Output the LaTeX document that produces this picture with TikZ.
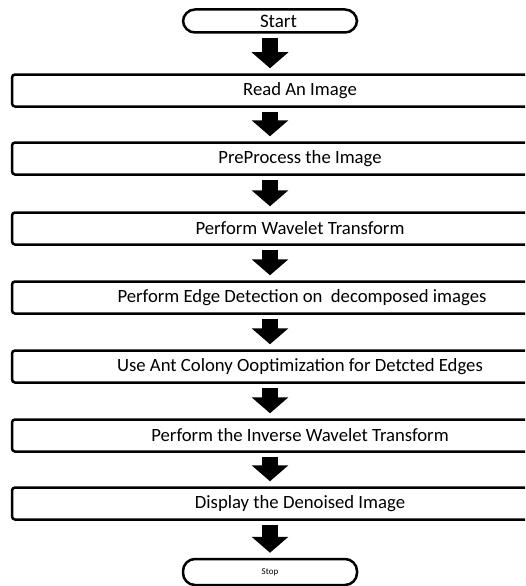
\documentclass[tikz,border=0pt]{standalone}
\usepackage{fontspec}
\setmainfont{Carlito}
\usetikzlibrary{arrows.meta}
\tikzset{
  procbox/.style={draw=black,line width=2.5pt,rounded corners=3pt,minimum width=576pt,minimum height=32pt,inner sep=0pt,font=\fontsize{18.7}{22}\selectfont},
  termbox/.style={draw=black,line width=2.5pt,rounded corners=12pt,minimum width=174pt,minimum height=23pt,inner sep=0pt},
  blockarrow/.style={line width=16pt,-{Triangle[length=16pt,width=36pt]},shorten <=4pt,shorten >=5pt}
}
\begin{document}
\begin{tikzpicture}[x=1pt,y=-1pt]
\useasboundingbox (0,0) rectangle (525,586);
\clip (0,0) rectangle (525,586);
\node[termbox,font=\fontsize{19}{22}\selectfont] (start) at (270,21) {\hspace*{17pt}Start};
\node[procbox] (read) at (300,90.5) {Read An Image};
\node[procbox] (prep) at (300,158.5) {PreProcess the Image};
\node[procbox] (dwt) at (300,228.5) {Perform Wavelet Transform};
\node[procbox] (edge) at (300,297.5) {\hspace*{4pt}Perform Edge Detection on \ decomposed images};
\node[procbox] (aco) at (300,366.5) {Use Ant Colony Ooptimization for Detcted Edges};
\node[procbox] (idwt) at (300,435.5) {Perform the Inverse Wavelet Transform};
\node[procbox] (show) at (300,503.5) {Display the Denoised Image};
\node[termbox,minimum height=26pt,font=\fontsize{9}{11}\selectfont] (stop) at (270,572) {Stop};
\draw[blockarrow] (start.south) -- (read.north -| start);
\draw[blockarrow] (read.south -| start) -- (prep.north -| start);
\draw[blockarrow] (prep.south -| start) -- (dwt.north -| start);
\draw[blockarrow] (dwt.south -| start) -- (edge.north -| start);
\draw[blockarrow] (edge.south -| start) -- (aco.north -| start);
\draw[blockarrow] (aco.south -| start) -- (idwt.north -| start);
\draw[blockarrow] (idwt.south -| start) -- (show.north -| start);
\draw[blockarrow] (show.south -| start) -- (stop.north);
\end{tikzpicture}
\end{document}
